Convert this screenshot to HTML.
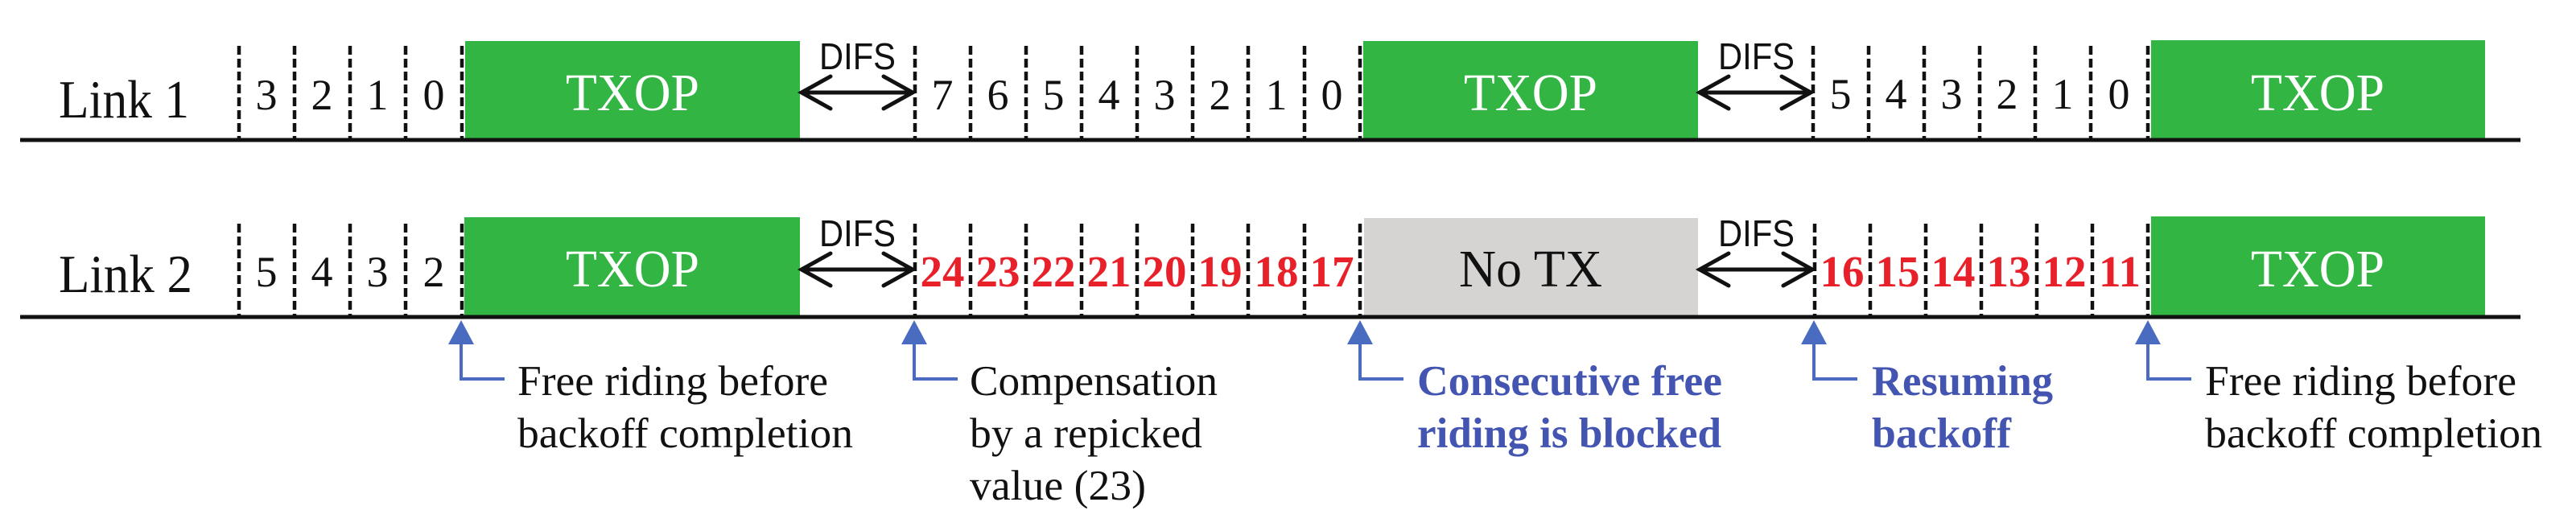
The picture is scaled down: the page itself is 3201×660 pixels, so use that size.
<!DOCTYPE html>
<html><head><meta charset="utf-8"><style>
html,body{margin:0;padding:0;background:#fff;}
svg{display:block;}
.t{font-family:"Liberation Serif",serif;}
.s{font-family:"Liberation Sans",sans-serif;}
</style></head><body>
<svg width="3201" height="660" viewBox="0 0 3201 660" xmlns="http://www.w3.org/2000/svg">
<!-- Row 1 -->
<rect x="578" y="51" width="416" height="122" fill="#33b543"/>
<rect x="1694" y="51" width="416" height="122" fill="#33b543"/>
<rect x="2673" y="50" width="415" height="123" fill="#33b543"/>
<g stroke="#111" stroke-width="4.5" stroke-dasharray="11,5">
<line x1="297" y1="57" x2="297" y2="174"/><line x1="366" y1="57" x2="366" y2="174"/><line x1="435" y1="57" x2="435" y2="174"/><line x1="504" y1="57" x2="504" y2="174"/><line x1="574" y1="57" x2="574" y2="174"/>
<line x1="1137" y1="57" x2="1137" y2="174"/><line x1="1206" y1="57" x2="1206" y2="174"/><line x1="1275" y1="57" x2="1275" y2="174"/><line x1="1344" y1="57" x2="1344" y2="174"/><line x1="1413" y1="57" x2="1413" y2="174"/><line x1="1482" y1="57" x2="1482" y2="174"/><line x1="1551" y1="57" x2="1551" y2="174"/><line x1="1621" y1="57" x2="1621" y2="174"/><line x1="1690" y1="57" x2="1690" y2="174"/>
<line x1="2253" y1="57" x2="2253" y2="174"/><line x1="2322" y1="57" x2="2322" y2="174"/><line x1="2391" y1="57" x2="2391" y2="174"/><line x1="2460" y1="57" x2="2460" y2="174"/><line x1="2529" y1="57" x2="2529" y2="174"/><line x1="2598" y1="57" x2="2598" y2="174"/><line x1="2669" y1="57" x2="2669" y2="174"/>
</g>
<line x1="25" y1="174" x2="3132" y2="174" stroke="#111" stroke-width="5"/>
<!-- Row 2 -->
<rect x="577" y="270" width="417" height="122" fill="#33b543"/>
<rect x="1695" y="271" width="415" height="121" fill="#d6d3d3"/>
<rect x="2673" y="269" width="415" height="123" fill="#33b543"/>
<g stroke="#111" stroke-width="4.5" stroke-dasharray="11,5">
<line x1="297" y1="278" x2="297" y2="394"/><line x1="366" y1="278" x2="366" y2="394"/><line x1="435" y1="278" x2="435" y2="394"/><line x1="504" y1="278" x2="504" y2="394"/><line x1="574" y1="278" x2="574" y2="394"/>
<line x1="1137" y1="278" x2="1137" y2="394"/><line x1="1206" y1="278" x2="1206" y2="394"/><line x1="1275" y1="278" x2="1275" y2="394"/><line x1="1344" y1="278" x2="1344" y2="394"/><line x1="1413" y1="278" x2="1413" y2="394"/><line x1="1482" y1="278" x2="1482" y2="394"/><line x1="1551" y1="278" x2="1551" y2="394"/><line x1="1621" y1="278" x2="1621" y2="394"/><line x1="1690" y1="278" x2="1690" y2="394"/>
<line x1="2255" y1="278" x2="2255" y2="394"/><line x1="2324" y1="278" x2="2324" y2="394"/><line x1="2393" y1="278" x2="2393" y2="394"/><line x1="2462" y1="278" x2="2462" y2="394"/><line x1="2531" y1="278" x2="2531" y2="394"/><line x1="2600" y1="278" x2="2600" y2="394"/><line x1="2669" y1="278" x2="2669" y2="394"/>
</g>
<line x1="25" y1="394" x2="3132" y2="394" stroke="#111" stroke-width="5"/>

<!-- DIFS arrows -->
<g stroke="#111" stroke-width="5" fill="none" stroke-linecap="round">
<path d="M996 115 H1134 M1032 95 L996 115 L1032 135 M1098 95 L1134 115 L1098 135"/>
<path d="M2112 115 H2250 M2148 95 L2112 115 L2148 135 M2214 95 L2250 115 L2214 135"/>
<path d="M996 335 H1134 M1032 315 L996 335 L1032 355 M1098 315 L1134 335 L1098 355"/>
<path d="M2112 335 H2252 M2148 315 L2112 335 L2148 355 M2216 315 L2252 335 L2216 355"/>
</g>
<g class="s" font-size="46" fill="#111">
<text x="1018" y="86" textLength="95" lengthAdjust="spacingAndGlyphs">DIFS</text>
<text x="2135" y="86" textLength="95" lengthAdjust="spacingAndGlyphs">DIFS</text>
<text x="1018" y="306" textLength="95" lengthAdjust="spacingAndGlyphs">DIFS</text>
<text x="2135" y="306" textLength="95" lengthAdjust="spacingAndGlyphs">DIFS</text>
</g>

<!-- Labels -->
<g class="t" font-size="67" fill="#111">
<text x="73" y="146" textLength="162" lengthAdjust="spacingAndGlyphs">Link 1</text>
<text x="73" y="363" textLength="166" lengthAdjust="spacingAndGlyphs">Link 2</text>
</g>
<g class="t" font-size="66" fill="#fff" text-anchor="middle">
<text x="786" y="137" textLength="166" lengthAdjust="spacingAndGlyphs">TXOP</text>
<text x="1902" y="137" textLength="166" lengthAdjust="spacingAndGlyphs">TXOP</text>
<text x="2880" y="137" textLength="166" lengthAdjust="spacingAndGlyphs">TXOP</text>
<text x="786" y="356" textLength="166" lengthAdjust="spacingAndGlyphs">TXOP</text>
<text x="2880" y="356" textLength="166" lengthAdjust="spacingAndGlyphs">TXOP</text>
</g>
<text class="t" x="1902" y="356" font-size="66" fill="#111" text-anchor="middle" textLength="178" lengthAdjust="spacingAndGlyphs">No TX</text>

<!-- digits -->
<g class="t" font-size="54" fill="#111" text-anchor="middle">
<text x="331" y="136">3</text><text x="400" y="136">2</text><text x="469" y="136">1</text><text x="539" y="136">0</text>
<text x="1171" y="136">7</text><text x="1240" y="136">6</text><text x="1309" y="136">5</text><text x="1378" y="136">4</text><text x="1447" y="136">3</text><text x="1516" y="136">2</text><text x="1586" y="136">1</text><text x="1655" y="136">0</text>
<text x="2287" y="135">5</text><text x="2356" y="135">4</text><text x="2425" y="135">3</text><text x="2494" y="135">2</text><text x="2563" y="135">1</text><text x="2633" y="135">0</text>
<text x="331" y="356">5</text><text x="400" y="356">4</text><text x="469" y="356">3</text><text x="539" y="356">2</text>
</g>
<g class="t" font-size="55" font-weight="bold" fill="#e8202a" text-anchor="middle">
<text x="1171" y="356">24</text><text x="1240" y="356">23</text><text x="1309" y="356">22</text><text x="1378" y="356">21</text><text x="1447" y="356">20</text><text x="1516" y="356">19</text><text x="1586" y="356">18</text><text x="1655" y="356">17</text>
<text x="2289" y="356">16</text><text x="2358" y="356">15</text><text x="2427" y="356">14</text><text x="2496" y="356">13</text><text x="2565" y="356">12</text><text x="2634" y="356">11</text>
</g>

<!-- Blue callouts -->
<g fill="#4a6cc0" stroke="none">
<polygon points="573,398 557,428 589,428"/>
<polygon points="1136,398 1120,428 1152,428"/>
<polygon points="1690,398 1674,428 1706,428"/>
<polygon points="2254,398 2238,428 2270,428"/>
<polygon points="2669,398 2653,428 2685,428"/>
</g>
<g stroke="#4a6cc0" stroke-width="4" fill="none">
<path d="M573 426 V471 H627"/>
<path d="M1136 426 V471 H1190"/>
<path d="M1690 426 V471 H1744"/>
<path d="M2254 426 V471 H2308"/>
<path d="M2669 426 V471 H2723"/>
</g>
<g class="t" font-size="53" fill="#111">
<text x="643" y="491" textLength="386" lengthAdjust="spacingAndGlyphs">Free riding before</text>
<text x="643" y="556" textLength="417" lengthAdjust="spacingAndGlyphs">backoff completion</text>
<text x="1205" y="491" textLength="308" lengthAdjust="spacingAndGlyphs">Compensation</text>
<text x="1205" y="556" textLength="289" lengthAdjust="spacingAndGlyphs">by a repicked</text>
<text x="1205" y="621" textLength="219" lengthAdjust="spacingAndGlyphs">value (23)</text>
<text x="2740" y="491" textLength="387" lengthAdjust="spacingAndGlyphs">Free riding before</text>
<text x="2740" y="556" textLength="419" lengthAdjust="spacingAndGlyphs">backoff completion</text>
</g>
<g class="t" font-size="53" font-weight="bold" fill="#4355b0">
<text x="1761" y="491" textLength="379" lengthAdjust="spacingAndGlyphs">Consecutive free</text>
<text x="1761" y="556" textLength="378" lengthAdjust="spacingAndGlyphs">riding is blocked</text>
<text x="2326" y="491" textLength="225" lengthAdjust="spacingAndGlyphs">Resuming</text>
<text x="2326" y="556" textLength="173" lengthAdjust="spacingAndGlyphs">backoff</text>
</g>
</svg>
</body></html>
